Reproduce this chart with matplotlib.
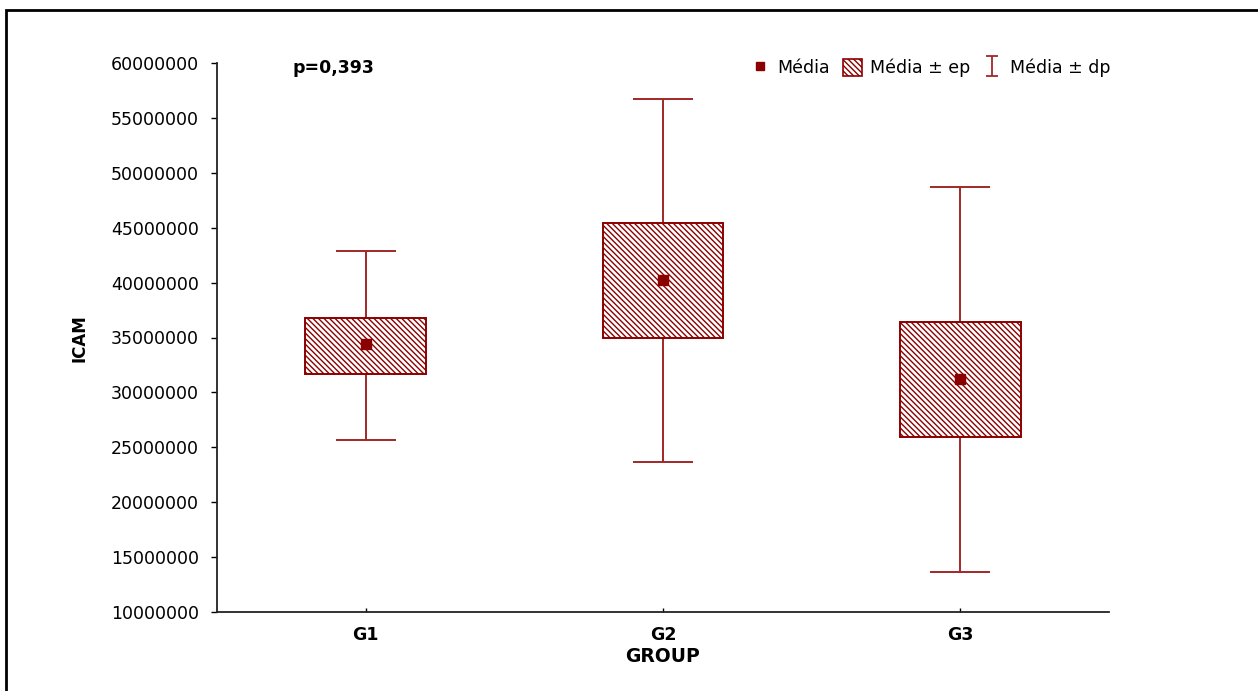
import matplotlib
matplotlib.use('Agg')
import matplotlib.pyplot as plt
from matplotlib.patches import Patch, Rectangle
from matplotlib.lines import Line2D
from matplotlib.path import Path
import numpy as np

plt.rcParams['font.family'] = ['DejaVu Sans']
plt.rcParams['hatch.linewidth'] = 1.0

# Group summaries of ICAM: mean, mean +/- standard error, mean +/- standard deviation
groups = ['G1', 'G2', 'G3']
means = [34.4e6, 40.2e6, 31.2e6]
se_low = [31.7e6, 35.0e6, 25.9e6]
se_high = [36.8e6, 45.4e6, 36.4e6]
sd_low = [25.7e6, 23.7e6, 13.6e6]
sd_high = [42.9e6, 56.7e6, 48.7e6]
yticks = np.arange(10000000, 60000001, 5000000)
p_text = 'p=0,393'

red = '#8b0000'
whisker = '#a02828'
hatch = '\\' * 6

fig = plt.figure(figsize=(12.58, 6.91), dpi=100)
ax = fig.add_axes([217/1258, 1 - 612/691, (1109 - 217)/1258, (612 - 63)/691])

x = np.arange(1, len(groups) + 1)
means = np.array(means)
se_low, se_high = np.array(se_low), np.array(se_high)
sd_low, sd_high = np.array(sd_low), np.array(sd_high)

# mean +/- sd whiskers
ax.errorbar(x, means, yerr=[means - sd_low, sd_high - means], fmt='none',
            ecolor=whisker, elinewidth=1.4, capsize=21.5, capthick=1.4, zorder=1)
# mean +/- se boxes
ax.bar(x, se_high - se_low, bottom=se_low, width=0.405, facecolor='white',
       edgecolor=red, hatch=hatch, linewidth=1.4, zorder=2)
ax.plot(x, means, 's', color=red, ms=7, zorder=3)

ax.set_xlim(0.5, 3.5)
ax.set_ylim(10000000, 60000000)
ax.set_yticks(yticks)
ax.set_yticklabels([str(v) for v in yticks], fontsize=12.5)
ax.set_xticks(x)
ax.set_xticklabels(groups, fontsize=12.5, fontweight='bold')
ax.tick_params(axis='y', direction='out', length=4, width=1, pad=9)
ax.tick_params(axis='x', direction='in', length=3, width=1, pad=10)
for s in ['top', 'right']:
    ax.spines[s].set_visible(False)
for s in ['left', 'bottom']:
    ax.spines[s].set_linewidth(1.3)
    ax.spines[s].set_color('#222222')

# axis titles
fig.text(80/1258, 1 - 338/691, 'ICAM', rotation=90, fontsize=12, fontweight='bold',
         ha='center', va='center')
fig.text(663/1258, 1 - 657/691, 'GROUP', fontsize=13.5, fontweight='bold',
         ha='center', va='center')

fig.text(292/1258, 1 - 68/691, p_text, fontsize=12.5, fontweight='bold',
         va='center', ha='left')

# legend handles
ibeam = Path([(-0.6, -1), (0.6, -1), (0, -1), (0, 1), (-0.6, 1), (0.6, 1)],
             [Path.MOVETO, Path.LINETO, Path.MOVETO, Path.LINETO, Path.MOVETO, Path.LINETO])
h_mean = Line2D([], [], marker='s', color=red, ls='none', ms=6)
h_se = Patch(facecolor='white', edgecolor=red, hatch=hatch, linewidth=1.2)
h_sd = Line2D([], [], marker=ibeam, color=whisker, ls='none', ms=14,
              markerfacecolor='none', markeredgewidth=1.3)
fig.legend([h_mean, h_se, h_sd], ['Média', 'Média ± ep', 'Média ± dp'],
           loc='center right', bbox_to_anchor=(1119/1258, 1 - 68/691),
           ncol=3, frameon=False, fontsize=12.5, handlelength=1.1,
           handleheight=1.1, handletextpad=0.45, columnspacing=0.75, borderpad=0)

# outer frame
fig.add_artist(Rectangle((6/1258, -0.1), 1.2, 1.1 - 10/691, transform=fig.transFigure,
                         fill=False, edgecolor='black', linewidth=2))

fig.savefig('out.png', dpi=100)
